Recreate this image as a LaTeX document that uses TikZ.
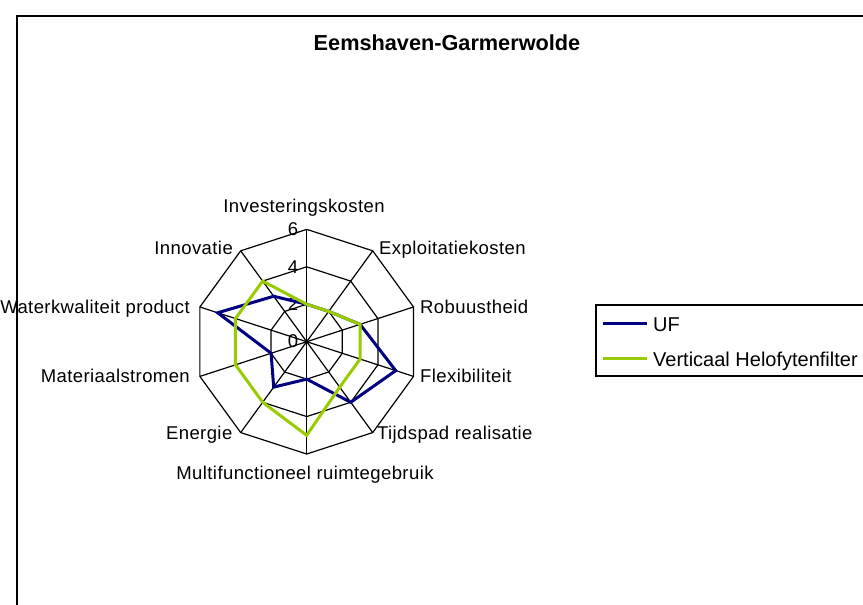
\documentclass[tikz,border=0pt]{standalone}
\usepackage{fontspec}
\setmainfont{Liberation Sans}
\newfontfamily\labfont[LetterSpace=2.2]{Liberation Sans}
\definecolor{ufblue}{RGB}{0,0,128}
\definecolor{vhgreen}{RGB}{153,204,0}
\begin{document}
\begin{tikzpicture}[x=1pt,y=1pt,
  gridline/.style={black, line width=1.2pt, line join=miter},
  framebox/.style={black, line width=1.7pt},
  legbox/.style={black, line width=1.3pt},
  lab/.style={inner sep=0pt, font=\labfont\fontsize{18.5}{22}\selectfont},
  ticklab/.style={inner sep=0pt, font=\fontsize{18.5}{22}\selectfont},
  leglab/.style={inner sep=0pt, font=\fontsize{20}{24}\selectfont},
  ttl/.style={inner sep=0pt, font=\fontsize{21.7}{26}\selectfont\bfseries},
  ufline/.style={draw=ufblue, line width=3pt, line join=miter},
  vhline/.style={draw=vhgreen, line width=3pt, line join=miter}]
\useasboundingbox (0,0) rectangle (863,605);
\fill[white] (0,0) rectangle (863,605);
% outer chart frame (extends beyond the visible area)
\draw[framebox] (17,589) rectangle (885,-20);
% title
\node[ttl, anchor=base] (title) at (447,554) {Eemshaven-Garmerwolde};
% radar chart
\def\u{18.72}
\begin{scope}[shift={(306.7,263.3)}]
  \coordinate (C) at (0,0);
  \foreach \r in {2,4,6}
    \draw[gridline] (90:{\r*\u}) \foreach \a in {1,...,9}{ -- ({90-36*\a}:{\r*\u}) } -- cycle;
  \foreach \a in {0,...,9}
    \draw[gridline] (C) -- ({90-36*\a}:{6*\u});
  % tick labels
  \foreach \t in {0,2,4,6}
    \node[ticklab, anchor=base east] (tick\t) at (-8.4,{\t*\u-6.3}) {\t};
  % data points
  \foreach \v [count=\k from 0] in {2,2,3,5,4,2,3,2,5,3}
    \coordinate (uf\k) at ({90-36*\k}:{\v*\u});
  \foreach \v [count=\k from 0] in {2,2,3,3,3,5,4,4,4,4}
    \coordinate (vh\k) at ({90-36*\k}:{\v*\u});
  \draw[ufline] (uf0) -- (uf1) -- (uf2) -- (uf3) -- (uf4) -- (uf5) -- (uf6) -- (uf7) -- (uf8) -- (uf9) -- cycle;
  \draw[vhline] (vh0) -- (vh1) -- (vh2) -- (vh3) -- (vh4) -- (vh5) -- (vh6) -- (vh7) -- (vh8) -- (vh9) -- cycle;
\end{scope}
% axis labels
\node[lab, anchor=base] (l0) at (304,392.3) {Investeringskosten};
\node[lab, anchor=base west] (l1) at (379,350) {Exploitatiekosten};
\node[lab, anchor=base west] (l2) at (420,291.3) {Robuustheid};
\node[lab, anchor=base west] (l3) at (420,222.3) {Flexibiliteit};
\node[lab, anchor=base west] (l4) at (377,165) {Tijdspad realisatie};
\node[lab, anchor=base] (l5) at (305,125) {Multifunctioneel ruimtegebruik};
\node[lab, anchor=base east] (l6) at (232.5,165) {Energie};
\node[lab, anchor=base east] (l7) at (190,222) {Materiaalstromen};
\node[lab, anchor=base east] (l8) at (190,291.8) {Waterkwaliteit product};
\node[lab, anchor=base east] (l9) at (233,350) {Innovatie};
% legend
\draw[legbox, fill=white] (596,300) rectangle (885,229);
\coordinate (lgA1) at (603,281.7);
\coordinate (lgA2) at (646.7,281.7);
\coordinate (lgB1) at (603,246);
\coordinate (lgB2) at (646.7,246);
\draw[ufline] (lgA1) -- (lgA2);
\draw[vhline] (lgB1) -- (lgB2);
\node[leglab, anchor=base west] (lgUF) at (653,273.3) {UF};
\node[leglab, anchor=base west] (lgVH) at (653,238.3) {Verticaal Helofytenfilter};
\end{tikzpicture}
\end{document}
